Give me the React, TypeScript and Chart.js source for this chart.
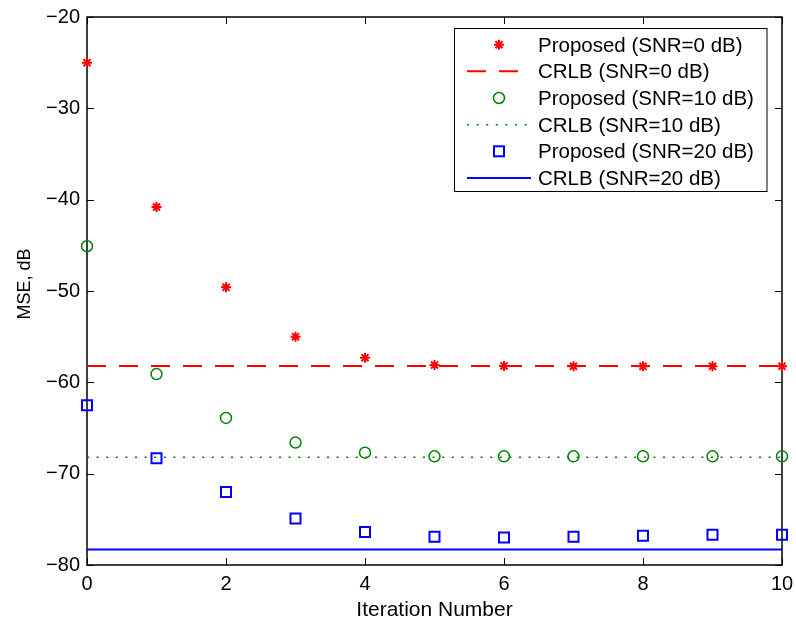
import React, { useEffect, useRef } from "react";
import { Chart, registerables } from "chart.js";

Chart.register(...registerables);

const iterations = [0, 1, 2, 3, 4, 5, 6, 7, 8, 9, 10];
const proposedSnr0 = [-25.0, -40.8, -49.6, -55.0, -57.3, -58.1, -58.2, -58.25, -58.25, -58.25, -58.25];
const proposedSnr10 = [-45.1, -59.1, -63.9, -66.6, -67.7, -68.1, -68.1, -68.1, -68.1, -68.1, -68.1];
const proposedSnr20 = [-62.5, -68.3, -72.0, -74.9, -76.4, -76.9, -77.0, -76.9, -76.8, -76.7, -76.7];
const crlbSnr0 = -58.2;
const crlbSnr10 = -68.2;
const crlbSnr20 = -78.3;
const xTicks = [0, 2, 4, 6, 8, 10];
const yTicks = [-80, -70, -60, -50, -40, -30, -20];
const legendLabels = [
  "Proposed (SNR=0 dB)",
  "CRLB (SNR=0 dB)",
  "Proposed (SNR=10 dB)",
  "CRLB (SNR=10 dB)",
  "Proposed (SNR=20 dB)",
  "CRLB (SNR=20 dB)",
];
const xTitle = "Iteration Number";
const yTitle = "MSE, dB";

const FONT = "'Liberation Sans', Arial, Helvetica, sans-serif";
const RED = "#ff0000";
const GREEN = "#008000";
const BLUE = "#0000ff";

function pts(vals: number[]) {
  return iterations.map((x, i) => ({ x, y: vals[i] }));
}
function flat(v: number) {
  return iterations.map((x) => ({ x, y: v }));
}

function drawStar(ctx: CanvasRenderingContext2D, x: number, y: number, r: number) {
  ctx.beginPath();
  ctx.moveTo(x - r, y);
  ctx.lineTo(x + r, y);
  ctx.moveTo(x, y - r);
  ctx.lineTo(x, y + r);
  const d = r * Math.SQRT1_2;
  ctx.moveTo(x - d, y - d);
  ctx.lineTo(x + d, y + d);
  ctx.moveTo(x - d, y + d);
  ctx.lineTo(x + d, y - d);
  ctx.stroke();
}

const frame = {
  id: "frame",
  beforeDatasetsDraw(chart: any) {
    const { ctx, chartArea: a, scales } = chart;
    ctx.save();
    ctx.strokeStyle = "#000";
    ctx.lineWidth = 1.5;
    ctx.strokeRect(a.left, a.top, a.right - a.left, a.bottom - a.top);
    ctx.lineWidth = 1;
    const tl = 7;
    ctx.beginPath();
    for (const t of scales.x.ticks) {
      const px = Math.round(scales.x.getPixelForValue(t.value)) + 0.5;
      ctx.moveTo(px, a.bottom);
      ctx.lineTo(px, a.bottom - tl);
      ctx.moveTo(px, a.top);
      ctx.lineTo(px, a.top + tl);
    }
    for (const t of scales.y.ticks) {
      const py = Math.round(scales.y.getPixelForValue(t.value)) + 0.5;
      ctx.moveTo(a.left, py);
      ctx.lineTo(a.left + tl, py);
      ctx.moveTo(a.right, py);
      ctx.lineTo(a.right - tl, py);
    }
    ctx.stroke();

    // axis titles
    ctx.fillStyle = "#000";
    ctx.font = `21px ${FONT}`;
    ctx.textAlign = "center";
    ctx.textBaseline = "alphabetic";
    ctx.fillText(xTitle, (a.left + a.right) / 2, 616);
    ctx.save();
    ctx.translate(29.5, 284);
    ctx.rotate(-Math.PI / 2);
    ctx.font = `18px ${FONT}`;
    ctx.fillText(yTitle, 0, 0);
    ctx.restore();
    ctx.restore();
  },
  afterDraw(chart: any) {
    const { ctx } = chart;
    ctx.save();
    const L = 454, T = 28.5, R = 766.5, B = 191.5;
    ctx.fillStyle = "#fff";
    ctx.fillRect(L, T, R - L, B - T);
    ctx.strokeStyle = "#000";
    ctx.lineWidth = 1;
    ctx.strokeRect(L + 0.5, T, R - L, B - T);
    const baselines = [51.7, 78.3, 105, 131.7, 158.3, 185];
    const symX = 499;
    ctx.font = `20.5px ${FONT}`;
    ctx.textAlign = "left";
    ctx.textBaseline = "alphabetic";
    legendLabels.forEach((lab, i) => {
      const cy = baselines[i] - 7;
      ctx.setLineDash([]);
      if (i === 0) {
        ctx.strokeStyle = RED;
        ctx.lineWidth = 2;
        drawStar(ctx, symX, cy, 5);
      } else if (i === 1) {
        ctx.strokeStyle = RED;
        ctx.lineWidth = 2;
        ctx.setLineDash([19, 13]);
        ctx.beginPath();
        ctx.moveTo(467, cy);
        ctx.lineTo(531, cy);
        ctx.stroke();
      } else if (i === 2) {
        ctx.strokeStyle = GREEN;
        ctx.lineWidth = 1.5;
        ctx.beginPath();
        ctx.arc(symX, cy, 5.5, 0, Math.PI * 2);
        ctx.stroke();
      } else if (i === 3) {
        ctx.strokeStyle = GREEN;
        ctx.lineWidth = 1.5;
        ctx.setLineDash([2, 7.6]);
        ctx.beginPath();
        ctx.moveTo(467, cy);
        ctx.lineTo(531, cy);
        ctx.stroke();
      } else if (i === 4) {
        ctx.strokeStyle = BLUE;
        ctx.lineWidth = 2;
        ctx.strokeRect(symX - 5, cy - 5, 10, 10);
      } else {
        ctx.strokeStyle = BLUE;
        ctx.lineWidth = 2;
        ctx.beginPath();
        ctx.moveTo(467, cy);
        ctx.lineTo(531, cy);
        ctx.stroke();
      }
      ctx.setLineDash([]);
      ctx.fillStyle = "#000";
      ctx.fillText(lab, 538, baselines[i]);
    });
    ctx.restore();
  },
};

export default function App() {
  const ref = useRef<HTMLCanvasElement | null>(null);
  useEffect(() => {
    if (!ref.current) return;
    const chart = new Chart(ref.current, {
      type: "scatter",
      data: {
        datasets: [
          {
            label: legendLabels[0],
            data: pts(proposedSnr0),
            showLine: false,
            pointStyle: "star",
            pointRadius: 5,
            pointBorderWidth: 2,
            borderColor: RED,
            backgroundColor: RED,
            clip: false,
          },
          {
            label: legendLabels[1],
            data: flat(crlbSnr0),
            showLine: true,
            pointRadius: 0,
            borderColor: RED,
            borderWidth: 2,
            borderDash: [19, 13],
            clip: false,
          },
          {
            label: legendLabels[2],
            data: pts(proposedSnr10),
            showLine: false,
            pointStyle: "circle",
            pointRadius: 5.5,
            pointBorderWidth: 1.5,
            borderColor: GREEN,
            backgroundColor: "rgba(0,0,0,0)",
            clip: false,
          },
          {
            label: legendLabels[3],
            data: flat(crlbSnr10),
            showLine: true,
            pointRadius: 0,
            borderColor: GREEN,
            borderWidth: 1.5,
            borderDash: [2, 7.6],
            clip: false,
          },
          {
            label: legendLabels[4],
            data: pts(proposedSnr20),
            showLine: false,
            pointStyle: "rect",
            pointRadius: 7.07,
            pointBorderWidth: 2,
            borderColor: BLUE,
            backgroundColor: "rgba(0,0,0,0)",
            clip: false,
          },
          {
            label: legendLabels[5],
            data: flat(crlbSnr20),
            showLine: true,
            pointRadius: 0,
            borderColor: BLUE,
            borderWidth: 2,
            clip: false,
          },
        ],
      },
      options: {
        responsive: false,
        animation: false,
        devicePixelRatio: 1,
        layout: { padding: { top: 17, right: 14, left: 0, bottom: 0 } },
        plugins: { legend: { display: false }, tooltip: { enabled: false } },
        events: [],
        scales: {
          x: {
            type: "linear",
            min: 0,
            max: 10,
            afterBuildTicks: (s: any) => {
              s.ticks = xTicks.map((v) => ({ value: v }));
            },
            afterFit: (s: any) => {
              s.height = 55;
              s.paddingLeft = 0;
              s.paddingRight = 0;
            },
            grid: { display: false, drawTicks: false, tickLength: 0 },
            border: { display: false },
            ticks: {
              padding: 7,
              color: "#000",
              maxRotation: 0,
              font: { family: FONT, size: 20 },
              callback: (v: any) => String(v),
            },
          },
          y: {
            type: "linear",
            min: -80,
            max: -20,
            afterBuildTicks: (s: any) => {
              s.ticks = yTicks.map((v) => ({ value: v }));
            },
            afterFit: (s: any) => {
              s.width = 87;
              s.paddingTop = 0;
              s.paddingBottom = 0;
            },
            grid: { display: false, drawTicks: false, tickLength: 0 },
            border: { display: false },
            ticks: {
              padding: 7,
              color: "#000",
              font: { family: FONT, size: 20 },
              callback: (v: any) => (Number(v) < 0 ? "\u2212" + Math.abs(Number(v)) : String(v)),
            },
          },
        },
      },
      plugins: [frame],
    });
    return () => chart.destroy();
  }, []);
  return (
    <div style={{ position: "fixed", left: 0, top: 0, width: 796, height: 620, background: "#fff" }}>
      <canvas ref={ref} width={796} height={620} style={{ display: "block" }} />
    </div>
  );
}
